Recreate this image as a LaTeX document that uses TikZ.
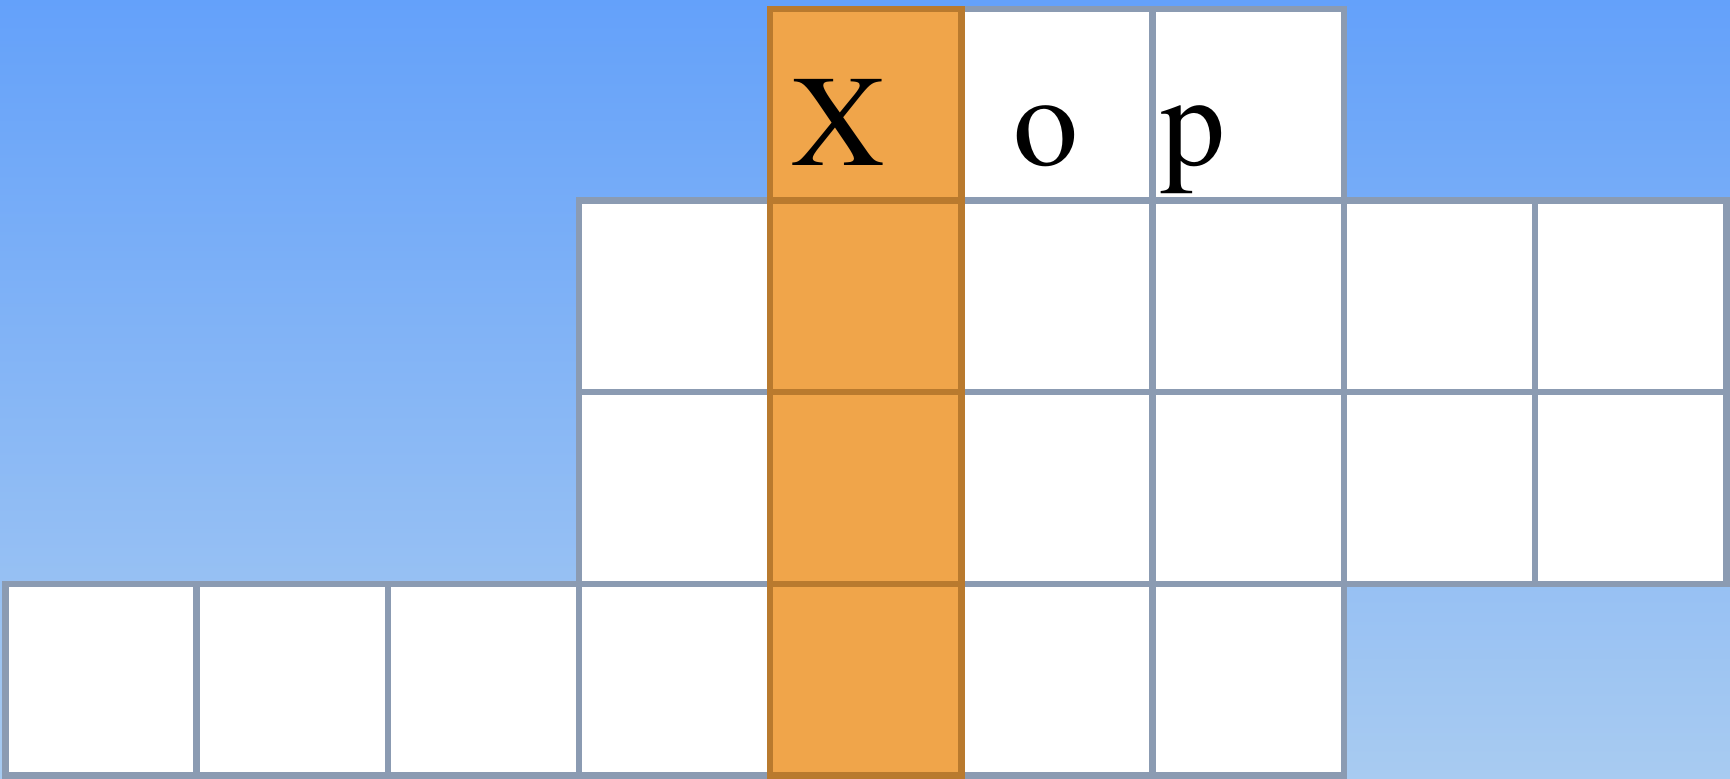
\documentclass[tikz,border=0pt]{standalone}
\usepackage{fontspec}
\newfontfamily\tms{TeX Gyre Termes}
\definecolor{bgtop}{HTML}{64A1FA}
\definecolor{bgbot}{HTML}{A8CBF1}
\definecolor{gridline}{HTML}{8B9BB2}
\definecolor{orfill}{HTML}{F0A54A}
\definecolor{ordraw}{HTML}{B97A2E}
\tikzset{
  cell/.style={draw=gridline, fill=white, line width=1.8pt, rectangle, inner sep=0pt, outer sep=0pt,
    minimum width=1.912cm, minimum height=1.917cm},
  ocell/.style={cell, draw=ordraw, fill=orfill},
  letter/.style={anchor=base, inner sep=0pt, font=\tms\fontsize{37}{40}\selectfont}
}
\begin{document}
\begin{tikzpicture}[x=0.01cm,y=-0.01cm]
\useasboundingbox (0,0) rectangle (1730,779);
\shade[top color=bgtop, bottom color=bgbot] (0,0) rectangle (1730,779);
\foreach \r/\c in {0/5,0/6,1/3,1/5,1/6,1/7,1/8,2/3,2/5,2/6,2/7,2/8,3/0,3/1,3/2,3/3,3/5,3/6}{
  \node[cell] (c\r\c) at ({5.5+191.2*(\c+0.5)}, {8.8+191.7*(\r+0.5)}) {};
}
\foreach \r in {0,1,2,3}{
  \node[ocell] (o\r) at ({5.5+191.2*4.5}, {8.8+191.7*(\r+0.5)}) {};
}
\node[letter] (tX) at (838.5,165.5) {X};
\node[letter] (to) at (1046,165.5) {o};
\node[letter] (tp) at (1193,165.5) {p};
\end{tikzpicture}
\end{document}
